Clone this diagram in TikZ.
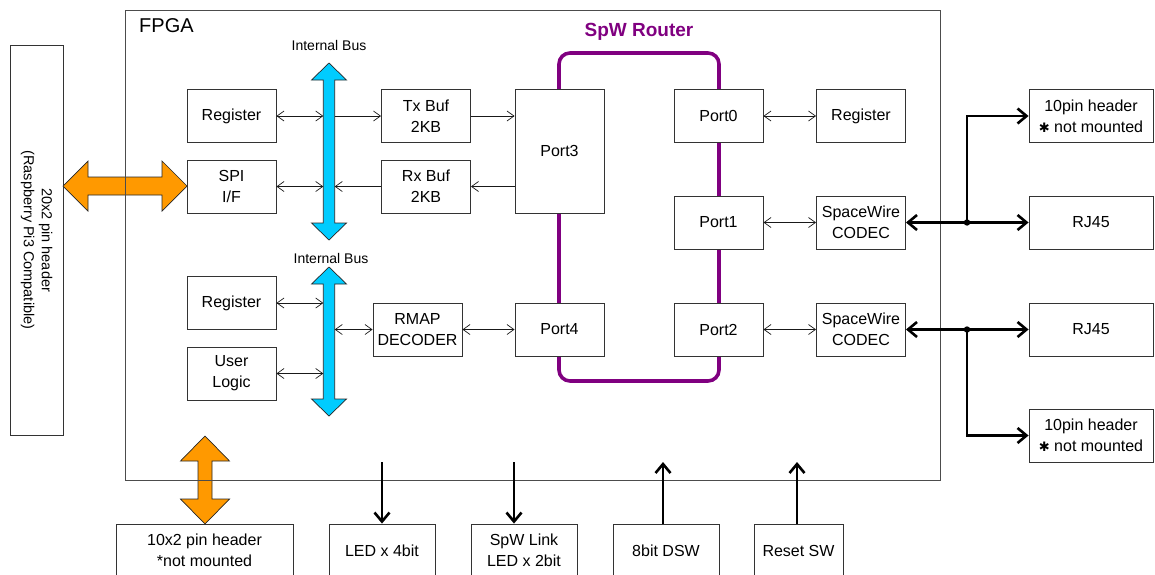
\documentclass[tikz,border=0pt]{standalone}
\usepackage{fontspec}
\setmainfont{Liberation Sans}
\newfontfamily\djv{DejaVu Sans}
\usetikzlibrary{arrows.meta}
\definecolor{orng}{HTML}{FF9900}
\definecolor{cyanb}{HTML}{00CCFF}
\definecolor{purp}{HTML}{800080}
\begin{document}
\begin{tikzpicture}[x=1pt,y=-1pt,
  box/.style={draw=black!80, line width=0.9pt, fill=white, minimum width=89pt, minimum height=53pt, inner sep=0pt, align=center, font=\fontsize{16}{21}\selectfont},
  lbl/.style={inner sep=0pt, font=\fontsize{14}{16}\selectfont},
  thinln/.style={line width=0.7pt, black!90},
  dbl/.style={thinln, {Straight Barb[length=7pt,width=10pt]}-{Straight Barb[length=7pt,width=10pt]}},
  sgl/.style={thinln, -{Straight Barb[length=7pt,width=10pt]}},
  thk/.style={line width=2.6pt, -{Straight Barb[length=9pt,width=15pt]}},
  thkd/.style={line width=2.6pt, {Straight Barb[length=9pt,width=15pt]}-{Straight Barb[length=9pt,width=15pt]}},
  bigarrow/.style={draw=black!85, line width=0.7pt}
]
\useasboundingbox (0,0) rectangle (1155,574);
\clip (0,0) rectangle (1155,574);

% orange arrows (below FPGA border)
\path[bigarrow, fill=orng] (63,186) -- (88,161) -- (88,177) -- (162,177) -- (162,161) -- (187,186) -- (162,211) -- (162,195) -- (88,195) -- (88,211) -- cycle;
\path[bigarrow, fill=orng] (205,436) -- (229.5,461) -- (212,461) -- (212,499) -- (229.5,499) -- (205,524) -- (180.5,499) -- (198,499) -- (198,461) -- (180.5,461) -- cycle;

% FPGA
\node[draw=black!70, line width=1pt, minimum width=815pt, minimum height=470pt, inner sep=0pt] (fpga) at (532.5,245) {};
\node[anchor=west, inner sep=0pt, font=\fontsize{20}{22}\selectfont] (fpgalbl) at (139,26) {FPGA};

% left header
\node[draw=black!80, line width=0.9pt, minimum width=53pt, minimum height=390pt, inner sep=0pt] (rpi) at (36.5,240) {};
\node[rotate=-90, align=center, font=\fontsize{14.5}{18}\selectfont] (rpitxt) at (36.5,240) {20x2 pin header\\(Raspberry Pi3 Compatible)};

% router
\draw[purp, line width=3.6pt, rounded corners=11pt] (559,53) rectangle (719,381);
\node[text=purp, font=\bfseries\fontsize{19}{21}\selectfont, inner sep=0pt] (rtlbl) at (639,32) {SpW Router};

% internal buses
\path[bigarrow, fill=cyanb] (329,63) -- (346.5,80) -- (334.7,80) -- (334.7,223) -- (346.5,223) -- (329,240) -- (311.5,223) -- (323.3,223) -- (323.3,80) -- (311.5,80) -- cycle;
\path[bigarrow, fill=cyanb] (329,267) -- (346.5,284) -- (334.7,284) -- (334.7,399) -- (346.5,399) -- (329,416) -- (311.5,399) -- (323.3,399) -- (323.3,284) -- (311.5,284) -- cycle;
\coordinate (b1L) at (323.3,150);
\coordinate (b1R) at (334.7,150);
\coordinate (b2L) at (323.3,340);
\coordinate (b2R) at (334.7,340);
\node[lbl] (ib1) at (329,45) {Internal Bus};
\node[lbl] (ib2) at (331,258) {Internal Bus};

% boxes
\node[box] (reg1) at (231.5,116) {Register};
\node[box] (spi) at (231.5,186.5) {SPI\\I/F};
\node[box] (tx) at (426,116) {Tx Buf\\2KB};
\node[box] (rx) at (426,186.5) {Rx Buf\\2KB};
\node[box, minimum height=124pt] (p3) at (559.5,151) {Port3};
\node[box] (p0) at (718.5,116) {Port0};
\node[box] (p1) at (718.5,222.5) {Port1};
\node[box] (p2) at (718.5,329.5) {Port2};
\node[box] (p4) at (559.5,329.5) {Port4};
\node[box] (rmap) at (417.5,329.5) {RMAP\\DECODER};
\node[box] (reg2) at (231.5,303) {Register};
\node[box] (user) at (231.5,373.5) {User\\Logic};
\node[box] (regR) at (861,116) {Register};
\node[box] (cod1) at (861,222.5) {SpaceWire\\CODEC};
\node[box] (cod2) at (861,329.5) {SpaceWire\\CODEC};
\node[box, minimum width=124pt] (hdr1) at (1091,116) {10pin header\\{\djv\fontsize{13}{16}\selectfont ✱} not mounted};
\node[box, minimum width=124pt] (rj1) at (1091,222.5) {RJ45};
\node[box, minimum width=124pt] (rj2) at (1091,329.5) {RJ45};
\node[box, minimum width=124pt] (hdr2) at (1091,435.5) {10pin header\\{\djv\fontsize{13}{16}\selectfont ✱} not mounted};

% bottom boxes
\node[box, minimum width=177pt] (pin10) at (204.5,550.5) {10x2 pin header\\*not mounted};
\node[box, minimum width=106pt] (led) at (382,550.5) {LED x 4bit};
\node[box, minimum width=106pt] (spw) at (524,550.5) {SpW Link\\LED x 2bit};
\node[box, minimum width=106pt] (dsw) at (666,550.5) {8bit DSW};
\node[box] (rst) at (798.5,550.5) {Reset SW};

% thin connectors
\draw[dbl] (reg1.east) -- (reg1.east -| b1L);
\draw[sgl] (tx.west -| b1R) -- (tx.west);
\draw[dbl] (spi.east) -- (spi.east -| b1L);
\draw[sgl] (rx.west) -- (rx.west -| b1R);
\draw[sgl] (tx.east) -- (tx.east -| p3.west);
\draw[sgl] (rx.east -| p3.west) -- (rx.east);
\draw[dbl] (p0.east) -- (regR.west);
\draw[dbl] (p1.east) -- (cod1.west);
\draw[dbl] (p2.east) -- (cod2.west);
\draw[dbl] (reg2.east) -- (reg2.east -| b2L);
\draw[dbl] (rmap.west -| b2R) -- (rmap.west);
\draw[dbl] (user.east) -- (user.east -| b2L);
\draw[dbl] (rmap.east) -- (p4.west);

% thick connectors right
\coordinate (j1) at (967,222.5);
\coordinate (j2) at (967,329.5);
\draw[thkd] (cod1.east) -- (rj1.west);
\draw[thk] (j1) |- (hdr1.west);
\draw[thkd] (cod2.east) -- (rj2.west);
\draw[thk] (j2) |- (hdr2.west);
\fill (j1) circle (3.2pt);
\fill (j2) circle (3.2pt);

% thick connectors bottom
\coordinate (ledsrc) at (382,462);
\coordinate (spwsrc) at (514,462);
\coordinate (dswdst) at (663,462);
\coordinate (rstdst) at (797,462);
\draw[thk] (ledsrc) -- (ledsrc |- led.north);
\draw[thk] (spwsrc) -- (spwsrc |- spw.north);
\draw[thk] (dswdst |- dsw.north) -- (dswdst);
\draw[thk] (rstdst |- rst.north) -- (rstdst);
\end{tikzpicture}
\end{document}
